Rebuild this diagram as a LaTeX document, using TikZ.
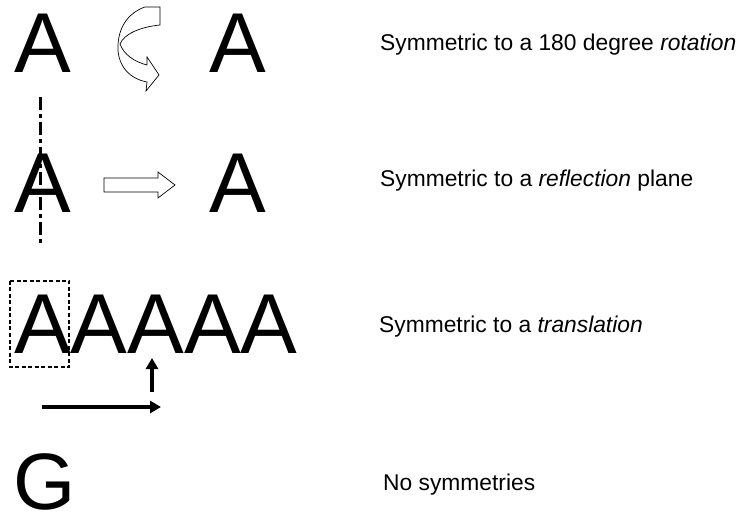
\documentclass[tikz,border=0pt]{standalone}
\usepackage{fontspec}
\setmainfont{Liberation Sans}
\usetikzlibrary{arrows.meta}
\tikzset{
  big/.style={font=\fontsize{85}{85}\selectfont, inner sep=0pt, anchor=base west},
  bigG/.style={font=\fontsize{80}{80}\selectfont, inner sep=0pt, anchor=base west},
  lbl/.style={font=\fontsize{22.8}{26}\selectfont, inner sep=0pt, anchor=base west},
  blockarrow/.style={draw=black, line width=0.7pt, fill=white, line join=miter},
  axisline/.style={line width=3pt, dash pattern=on 13pt off 4pt on 4pt off 4pt},
  boldarrow/.style={line width=3.4pt, -{Triangle[length=11pt,width=12pt]}},
  cellbox/.style={draw, line width=1.2pt, dash pattern=on 4pt off 2.5pt}
}
\begin{document}
\begin{tikzpicture}[x=1pt,y=-1pt]
\useasboundingbox (0,0) rectangle (749,518);
% row 1: rotation
\node[big] (a1) at (14,73) {A};
\node[big] (a2) at (209,73) {A};
\draw[blockarrow] (145,7) -- (160,7) -- (160,25)
  .. controls (140,27) and (124,34) .. (120,44)
  .. controls (124,55) and (135,62) .. (147,65)
  -- (147,57) -- (159,75) -- (146,91) -- (147,82)
  .. controls (126,78) and (117,62) .. (118,45)
  .. controls (119,25) and (130,12) .. (145,7) -- cycle;
\node[lbl] (t1) at (380,51) {Symmetric to a 180 degree \textit{rotation}};
% row 2: reflection
\node[big] (b1) at (14,213) {A};
\node[big] (b2) at (209,213) {A};
\coordinate (m1) at (40,97);
\coordinate (m2) at (40,243);
\draw[axisline] (m1) -- (m2);
\draw[blockarrow] (104,178) -- (158,178) -- (158,172) -- (175,185)
  -- (158,198) -- (158,192) -- (104,192) -- cycle;
\node[lbl] (t2) at (380,187) {Symmetric to a \textit{reflection} plane};
% row 3: translation
\node[big] (c1) at (14,353) {AAAAA};
\draw[cellbox] (10,281) rectangle (69,367);
\coordinate (u1) at (152,392);
\coordinate (u2) at (152,358);
\draw[boldarrow] (u1) -- (u2);
\coordinate (h1) at (42,407);
\coordinate (h2) at (161,407);
\draw[boldarrow] (h1) -- (h2);
\node[lbl] (t3) at (379,333) {Symmetric to a \textit{translation}};
% row 4: none
\node[bigG] (g) at (13,509) {G};
\node[lbl] (t4) at (383,490) {No symmetries};
\end{tikzpicture}
\end{document}
